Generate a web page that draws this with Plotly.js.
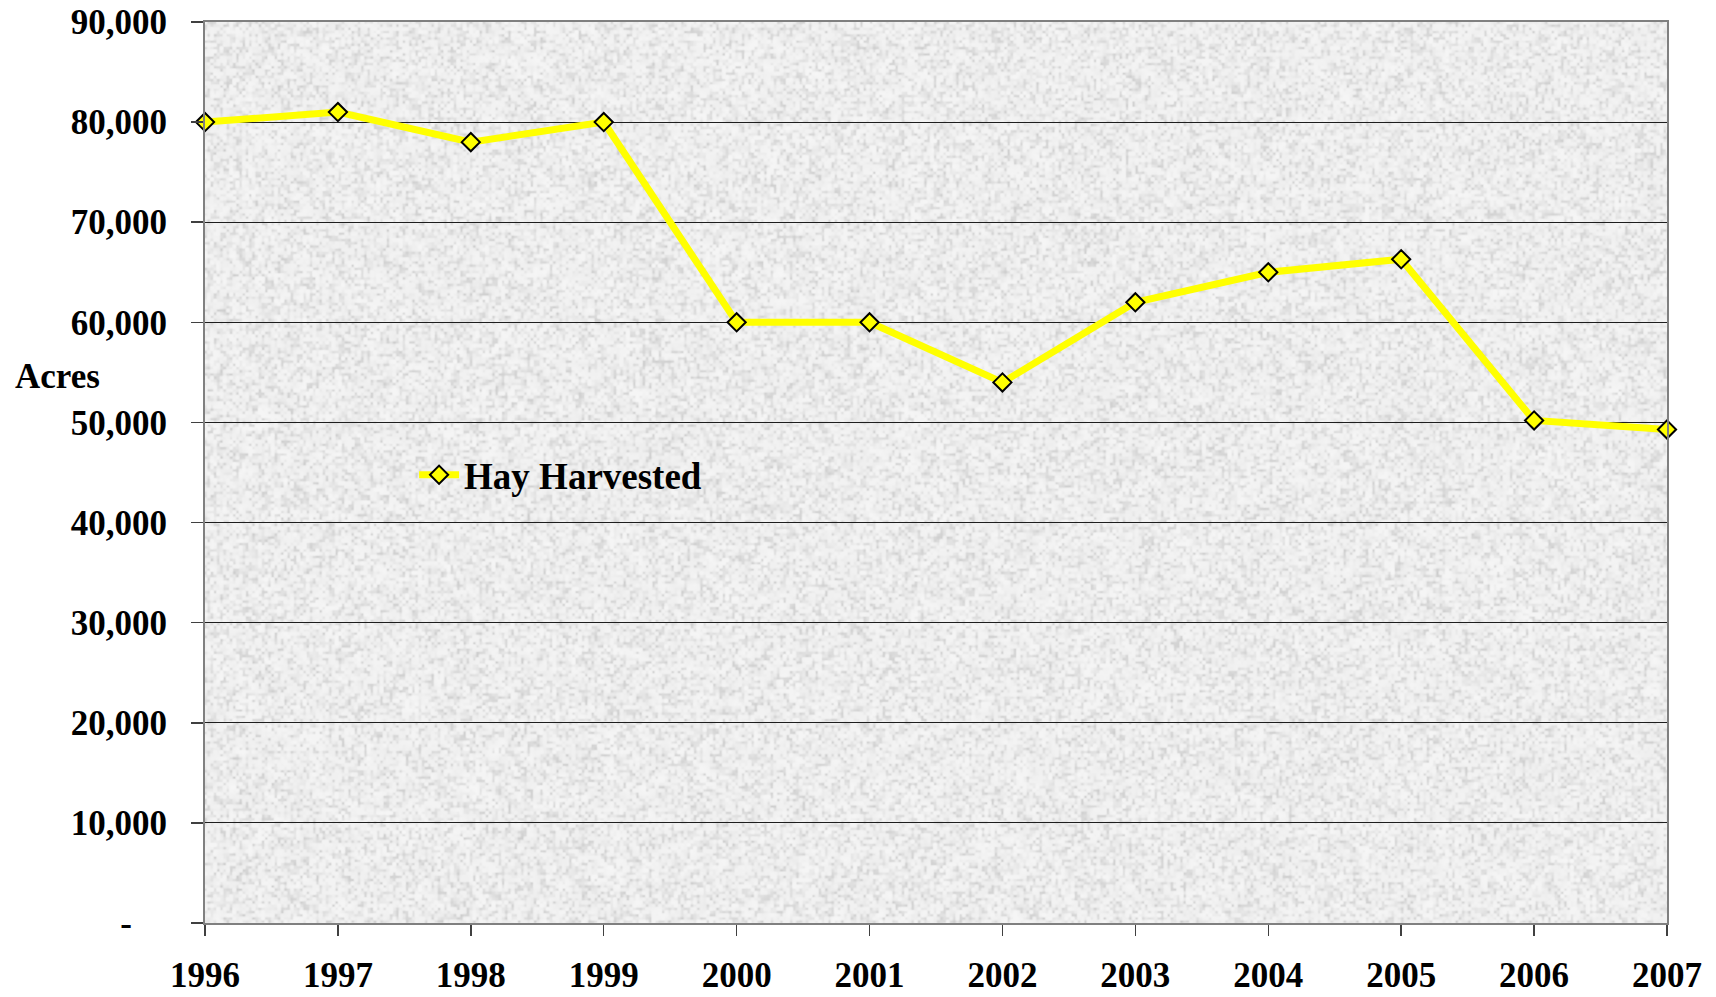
<!DOCTYPE html>
<html>
<head>
<meta charset="utf-8">
<script src="https://cdn.plot.ly/plotly-3.0.1.min.js"></script>
<style>
html,body{margin:0;padding:0;background:#fff;}
#chart{width:1716px;height:997px;}
</style>
</head>
<body>
<div id="chart"></div>
<script>
// ---- data ----
const years = ['1996','1997','1998','1999','2000','2001','2002','2003','2004','2005','2006','2007'];
const hayHarvested = [80000, 81000, 78000, 80000, 60000, 60000, 54000, 62000, 65000, 66300, 50200, 49300];
const seriesName = 'Hay Harvested';
const yTickVals = [0, 10000, 20000, 30000, 40000, 50000, 60000, 70000, 80000, 90000];
const yTickText = ['-\u00A0\u00A0\u00A0\u00A0', '10,000', '20,000', '30,000', '40,000', '50,000', '60,000', '70,000', '80,000', '90,000'];
const yTitle = 'Acres';

// ---- decorative granite-like texture for the plot area (deterministic) ----
function makeTexture(w, h) {
  const c = document.createElement('canvas');
  c.width = w; c.height = h;
  const ctx = c.getContext('2d');
  const img = ctx.createImageData(w, h);
  function hash(x, y, s) {
    let n = (x * 374761393 + y * 668265263 + s * 982451653) | 0;
    n = Math.imul(n ^ (n >>> 13), 1274126177);
    n = n ^ (n >>> 16);
    return ((n >>> 0) % 10000) / 10000;
  }
  function vnoise(x, y, cell, s) {
    const gx = Math.floor(x / cell), gy = Math.floor(y / cell);
    const fx = x / cell - gx, fy = y / cell - gy;
    const sx = fx * fx * (3 - 2 * fx), sy = fy * fy * (3 - 2 * fy);
    const a = hash(gx, gy, s), b = hash(gx + 1, gy, s);
    const c2 = hash(gx, gy + 1, s), d = hash(gx + 1, gy + 1, s);
    return (a * (1 - sx) + b * sx) * (1 - sy) + (c2 * (1 - sx) + d * sx) * sy;
  }
  for (let y = 0; y < h; y++) {
    for (let x = 0; x < w; x++) {
      const n1 = vnoise(x, y, 3.2, 1);
      const n2 = vnoise(x, y, 9, 2);
      let v = 246 - Math.pow(n1, 2.6) * 34 - n2 * 7;
      const i = (y * w + x) * 4;
      img.data[i] = v; img.data[i + 1] = v; img.data[i + 2] = v; img.data[i + 3] = 255;
    }
  }
  ctx.putImageData(img, 0, 0);
  return c.toDataURL('image/png');
}

const fontFam = '"Liberation Serif", "Times New Roman", serif';

const trace = {
  type: 'scatter',
  mode: 'lines+markers',
  x: years,
  y: hayHarvested,
  name: seriesName,
  line: {color: '#FFFF00', width: 7},
  marker: {symbol: 'diamond', size: 14, color: '#FFFF00', line: {color: '#000000', width: 2}},
  showlegend: true,
  cliponaxis: false
};

const layout = {
  width: 1716,
  height: 997,
  margin: {l: 205, r: 49, t: 22, b: 74, pad: 0},
  paper_bgcolor: '#ffffff',
  plot_bgcolor: '#efefef',
  font: {family: fontFam, color: '#000', size: 35},
  showlegend: true,
  legend: {
    x: 0.143, y: 0.497, xanchor: 'left', yanchor: 'middle',
    bgcolor: 'rgba(0,0,0,0)',
    font: {family: fontFam, size: 37, color: '#000', weight: 'bold'},
    itemwidth: 40
  },
  xaxis: {
    type: 'category',
    range: [0, 11],
    showgrid: false,
    showline: true, linecolor: '#808080', linewidth: 2, mirror: true,
    ticks: 'outside', ticklen: 11, tickcolor: '#404040', tickwidth: 1.5,
    ticklabelstandoff: 9,
    tickfont: {family: fontFam, size: 35, color: '#000', weight: 'bold'},
    zeroline: false
  },
  yaxis: {
    range: [0, 90000],
    tickvals: yTickVals,
    ticktext: yTickText,
    showgrid: true, gridcolor: '#1e1e1e', gridwidth: 1,
    showline: true, linecolor: '#808080', linewidth: 2, mirror: true,
    ticks: 'outside', ticklen: 12, tickcolor: '#404040', tickwidth: 1.5,
    ticklabelstandoff: 17,
    tickfont: {family: fontFam, size: 35, color: '#000', weight: 'bold'},
    zeroline: false
  },
  annotations: [{
    text: yTitle, xref: 'paper', yref: 'paper', x: -0.131, y: 0.606,
    xanchor: 'left', yanchor: 'middle', showarrow: false,
    font: {family: fontFam, size: 35, color: '#000', weight: 'bold'}
  }],
  images: [{
    source: makeTexture(1462, 901),
    xref: 'paper', yref: 'paper', x: 0, y: 1, sizex: 1, sizey: 1,
    xanchor: 'left', yanchor: 'top', sizing: 'stretch', layer: 'below'
  }]
};

Plotly.newPlot('chart', [trace], layout, {displayModeBar: false, staticPlot: true});
</script>
</body>
</html>
